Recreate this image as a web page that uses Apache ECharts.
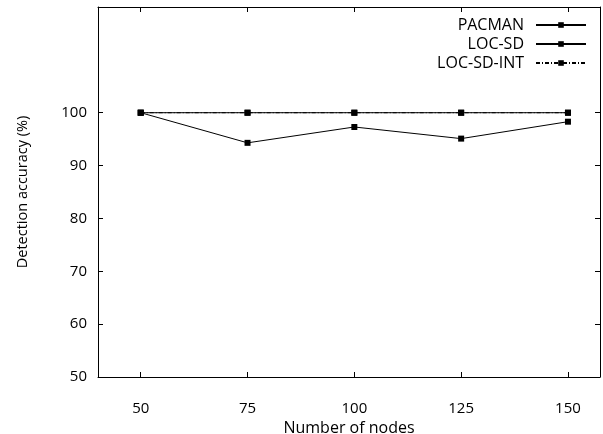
<!DOCTYPE html>
<html><head><meta charset="utf-8">
<script src="https://cdn.jsdelivr.net/npm/echarts@6/dist/echarts.min.js"></script>
<style>html,body{margin:0;padding:0;background:#fff}#c{width:603px;height:434px}</style>
</head><body><div id="c"></div>
<script>
const nodes = [50, 75, 100, 125, 150];
const pacman = [100, 94.3, 97.3, 95.1, 98.3];
const locSd = [100, 100, 100, 100, 100];
const locSdInt = [100, 100, 100, 100, 100];
const xTicks = [50, 75, 100, 125, 150];
const yTicks = [50, 60, 70, 80, 90, 100];

const font = '"Open Sans", "Noto Sans", sans-serif';
const pairs = a => nodes.map((n, i) => [n, a[i]]);
const mk = (name, data, type, z) => ({
  name, type: 'line', data: pairs(data), symbol: 'rect', symbolSize: 6, z,
  lineStyle: { color: '#000', width: 1, type }, itemStyle: { color: '#000' },
  emphasis: { disabled: true }, animation: false
});
const chart = echarts.init(document.getElementById('c'));
chart.setOption({
  animation: false,
  grid: { left: 98, right: 3, top: 7, bottom: 57, containLabel: false, outerBoundsMode: 'none' },
  legend: {
    right: 11, top: 12, orient: 'vertical', align: 'right',
    itemWidth: 50, itemHeight: 7, itemGap: 3,
    textStyle: { fontFamily: font, fontSize: 16, color: '#000', padding: [0, 7, 0, 0] },
    data: ['PACMAN', 'LOC-SD', 'LOC-SD-INT']
  },
  xAxis: [{
    type: 'value', min: 40, max: 157.5, position: 'bottom',
    name: 'Number of nodes', nameLocation: 'middle', nameGap: 38,
    nameTextStyle: { fontFamily: font, fontSize: 16, color: '#000' },
    axisLine: { lineStyle: { color: '#000', width: 1 } },
    axisTick: { inside: true, length: 5, customValues: xTicks, lineStyle: { color: '#000' } },
    axisLabel: { customValues: xTicks, margin: 24, fontFamily: font, fontSize: 15, color: '#000' },
    splitLine: { show: false }
  }, {
    type: 'value', min: 40, max: 157.5, position: 'top',
    axisLine: { show: true, lineStyle: { color: '#000', width: 1 } },
    axisTick: { inside: true, length: 5, customValues: xTicks, lineStyle: { color: '#000' } },
    axisLabel: { show: false }, splitLine: { show: false }
  }],
  yAxis: [{
    type: 'value', min: 50, max: 120, position: 'left',
    name: 'Detection accuracy (%)', nameLocation: 'middle', nameGap: 68,
    nameTextStyle: { fontFamily: font, fontSize: 14.5, color: '#000' },
    axisLine: { show: true, lineStyle: { color: '#000', width: 1 } },
    axisTick: { show: true, inside: true, length: 5, customValues: yTicks, lineStyle: { color: '#000' } },
    axisLabel: { customValues: yTicks, margin: 11, fontFamily: font, fontSize: 15, color: '#000' },
    splitLine: { show: false }
  }, {
    type: 'value', min: 50, max: 120, position: 'right',
    axisLine: { show: true, lineStyle: { color: '#000', width: 1 } },
    axisTick: { show: true, inside: true, length: 5, customValues: yTicks, lineStyle: { color: '#000' } },
    axisLabel: { show: false }, splitLine: { show: false }
  }],
  series: [
    mk('PACMAN', pacman, 'solid', 3),
    mk('LOC-SD', locSd, 'solid', 4),
    mk('LOC-SD-INT', locSdInt, [4, 2, 1, 2], 2)
  ]
});
</script></body></html>
